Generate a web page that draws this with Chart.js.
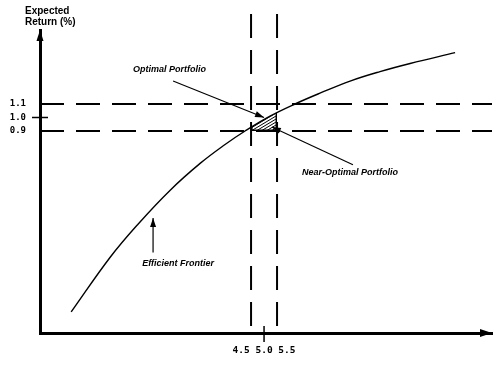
<!DOCTYPE html>
<html>
<head>
<meta charset="utf-8">
<script src="https://cdn.jsdelivr.net/npm/chart.js@4.4.1/dist/chart.umd.min.js"></script>
<style>
  html, body { margin: 0; padding: 0; background: #fff; }
</style>
</head>
<body>
<canvas id="frontier-chart" width="496" height="365"></canvas>
<script>
// efficient frontier (risk on x, expected return on y)
const frontierRisk = [-2.42, -0.92, 0.15, 1.38, 2.54, 3.5, 4.27, 5.23, 6.19, 7.15, 8.31, 9.46, 10.62, 12.35];
const frontierReturn = [-0.44, -0.035, 0.21, 0.46, 0.66, 0.8, 0.9, 1.01, 1.1, 1.18, 1.27, 1.34, 1.4, 1.48];

const xTickValues = [4.5, 5.0, 5.5];
const xTickLabels = ['4.5', '5.0', '5.5'];
const yTickValues = [0.9, 1.0, 1.1];
const yTickLabels = ['0.9', '1.0', '1.1'];

// dashed bands round the optimal portfolio
const riskBand = [4.5, 5.5];
const returnBand = [0.9, 1.1];

const xRange = [-3.62, 13.77];
const yRange = [-0.596, 1.648];

const noteTexts = ['Optimal Portfolio', 'Near-Optimal Portfolio', 'Efficient Frontier'];
const noteAt = [[-0.04, 1.352], [6.46, 0.596], [0.31, -0.085]];
const pointerFrom = [[1.5, 1.27], [8.42, 0.65], [0.73, 0.0]];
const pointerTo = [[5.0, 1.0], [5.3, 0.93], [0.73, 0.256]];

function arrowHead(ctx, x0, y0, x1, y1, len, half) {
    const ang = Math.atan2(y1 - y0, x1 - x0);
    ctx.beginPath();
    ctx.moveTo(x1, y1);
    ctx.lineTo(x1 - len * Math.cos(ang) + half * Math.sin(ang), y1 - len * Math.sin(ang) - half * Math.cos(ang));
    ctx.lineTo(x1 - len * Math.cos(ang) - half * Math.sin(ang), y1 - len * Math.sin(ang) + half * Math.cos(ang));
    ctx.closePath();
    ctx.fill();
}

const sketchPlugin = {
    id: 'sketch',
    beforeDatasetsDraw(chart) {
        const { ctx, chartArea: a, scales: { x, y } } = chart;
        ctx.save();
        ctx.strokeStyle = '#000';
        ctx.lineWidth = 2;
        ctx.setLineDash([24, 12]);
        returnBand.forEach(v => {
            const py = y.getPixelForValue(v);
            ctx.beginPath();
            ctx.moveTo(a.left, py);
            ctx.lineTo(a.right, py);
            ctx.stroke();
        });
        riskBand.forEach(v => {
            const px = x.getPixelForValue(v);
            ctx.beginPath();
            ctx.moveTo(px, a.top - 16);
            ctx.lineTo(px, a.bottom);
            ctx.stroke();
        });
        ctx.restore();

        // hatched area: inside the bands, under the frontier
        const line = chart.getDatasetMeta(0).dataset;
        const pts = line.points;
        const x0 = x.getPixelForValue(riskBand[0]);
        const x1 = x.getPixelForValue(riskBand[1]);
        const yb = y.getPixelForValue(returnBand[0]);
        ctx.save();
        ctx.beginPath();
        ctx.rect(x0, a.top, x1 - x0, yb - a.top);
        ctx.clip();
        ctx.beginPath();
        line.path(ctx);
        ctx.lineTo(pts[pts.length - 1].x, a.bottom);
        ctx.lineTo(pts[0].x, a.bottom);
        ctx.closePath();
        ctx.clip();
        ctx.strokeStyle = '#000';
        ctx.lineWidth = 1;
        for (let k = x0 - 50; k < x1 + 10; k += 5) {
            ctx.beginPath();
            ctx.moveTo(k, yb);
            ctx.lineTo(k + 50, yb - 30);
            ctx.stroke();
        }
        ctx.lineWidth = 3;
        ctx.strokeRect(x0, a.top, x1 - x0, yb - a.top);
        ctx.restore();
    },
    afterDraw(chart) {
        const { ctx, chartArea: a, scales: { x, y } } = chart;
        ctx.save();
        ctx.fillStyle = '#000';
        ctx.strokeStyle = '#000';

        // axis arrow heads
        ctx.beginPath();
        ctx.moveTo(a.left, a.top);
        ctx.lineTo(a.left - 3.5, a.top + 11);
        ctx.lineTo(a.left + 3.5, a.top + 11);
        ctx.closePath();
        ctx.fill();
        ctx.beginPath();
        ctx.moveTo(a.right, a.bottom);
        ctx.lineTo(a.right - 12, a.bottom - 4);
        ctx.lineTo(a.right - 12, a.bottom + 4);
        ctx.closePath();
        ctx.fill();

        // short marks for 1.0 and 5.0
        ctx.lineWidth = 1.5;
        const y1 = y.getPixelForValue(yTickValues[1]);
        ctx.beginPath();
        ctx.moveTo(a.left - 8, y1);
        ctx.lineTo(a.left + 8, y1);
        ctx.stroke();
        const x1 = x.getPixelForValue(xTickValues[1]);
        ctx.beginPath();
        ctx.moveTo(x1, a.bottom - 7);
        ctx.lineTo(x1, a.bottom + 9);
        ctx.stroke();

        // pointers
        ctx.lineWidth = 1.2;
        pointerFrom.forEach((f, i) => {
            const t = pointerTo[i];
            const fx = x.getPixelForValue(f[0]), fy = y.getPixelForValue(f[1]);
            const tx = x.getPixelForValue(t[0]), ty = y.getPixelForValue(t[1]);
            ctx.beginPath();
            ctx.moveTo(fx, fy);
            ctx.lineTo(tx, ty);
            ctx.stroke();
            arrowHead(ctx, fx, fy, tx, ty, 9, 3);
        });

        // notes
        ctx.font = 'italic bold 9px "Liberation Sans"';
        ctx.textBaseline = 'middle';
        ctx.textAlign = 'left';
        noteTexts.forEach((t, i) => {
            ctx.fillText(t, x.getPixelForValue(noteAt[i][0]), y.getPixelForValue(noteAt[i][1]));
        });

        // y axis title
        ctx.font = 'bold 10px "Liberation Sans"';
        ctx.fillText('Expected', a.left - 15, 11);
        ctx.fillText('Return (%)', a.left - 15, 22);
        ctx.restore();
    }
};

const tickFont = { family: '"DejaVu Sans Mono"', weight: 'bold', size: 9.5 };

new Chart(document.getElementById('frontier-chart'), {
    type: 'line',
    data: {
        datasets: [{
            data: frontierRisk.map((r, i) => ({ x: r, y: frontierReturn[i] })),
            borderColor: '#000',
            borderWidth: 1.4,
            pointRadius: 0,
            tension: 0.4,
            fill: false
        }]
    },
    options: {
        responsive: false,
        animation: false,
        events: [],
        layout: { padding: { top: 30, right: 4, left: 0, bottom: 0 } },
        plugins: { legend: { display: false }, tooltip: { enabled: false } },
        scales: {
            x: {
                type: 'linear',
                min: xRange[0],
                max: xRange[1],
                grid: { display: false, drawTicks: false },
                border: { color: '#000', width: 3 },
                afterBuildTicks: s => { s.ticks = [{ value: xTickValues[1] }]; },
                afterFit: s => { s.height = 32; },
                ticks: {
                    autoSkip: false,
                    maxRotation: 0,
                    padding: 12,
                    color: '#000',
                    font: tickFont,
                    callback: () => xTickLabels.join(' ')
                }
            },
            y: {
                type: 'linear',
                min: yRange[0],
                max: yRange[1],
                grid: { display: false, drawTicks: false },
                border: { color: '#000', width: 3 },
                afterBuildTicks: s => { s.ticks = yTickValues.map(v => ({ value: v })); },
                afterFit: s => { s.width = 40; },
                ticks: {
                    autoSkip: false,
                    padding: 14,
                    color: '#000',
                    font: { family: '"DejaVu Sans Mono"', weight: 'bold', size: 9 },
                    callback: (v, i) => yTickLabels[i]
                }
            }
        }
    },
    plugins: [sketchPlugin]
});
</script>
</body>
</html>
